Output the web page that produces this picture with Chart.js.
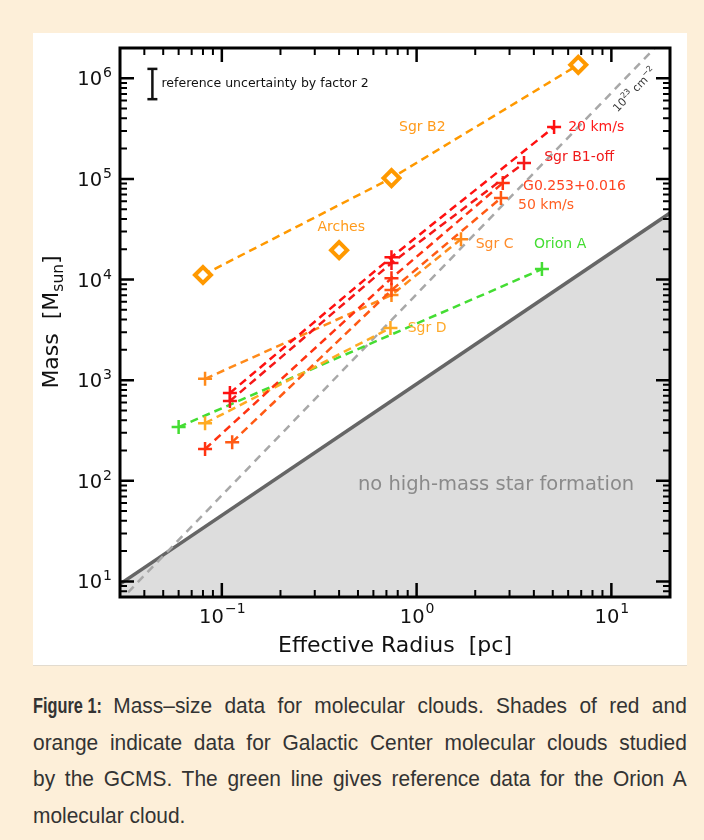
<!DOCTYPE html>
<html lang="en">
<head>
  <meta charset="UTF-8" />
  <title>Mass–size data for molecular clouds</title>
  <script src="https://cdn.jsdelivr.net/npm/chart.js"></script>
  <style>
    body {
      margin: 0;
      width: 704px;
      height: 840px;
      overflow: hidden;
      position: relative;
      background: #fdefd9;
      font-family: 'DejaVu Sans', sans-serif;
    }

    #panel {
      position: absolute;
      left: 33px;
      top: 33px;
      width: 654px;
      height: 632px;
      background: #ffffff;
      border-bottom: 1px solid #e2dbcf;
    }

    /* no condensed font installed, so squeeze a regular one */
    #caption {
      position: absolute;
      left: 33px;
      top: 688px;
      width: 703px;
      transform: scaleX(0.93);
      transform-origin: 0 0;
      font-family: 'Liberation Sans', Arial, sans-serif;
      font-size: 22.5px;
      line-height: 36.7px;
      color: #333333;
    }

    #caption .ln {
      text-align: justify;
      text-align-last: justify;
      white-space: nowrap;
    }

    #caption .ln.last {
      text-align-last: left;
    }

    #caption .fig {
      display: inline-block;
      width: 73px;
      white-space: nowrap;
    }

    #caption .fig b {
      display: inline-block;
      transform: scaleX(0.78);
      transform-origin: 0 50%;
    }
  </style>
</head>
<body>

<div id="panel">
  <canvas id="massChart" width="654" height="632"></canvas>
</div>

<div id="caption">
  <div class="ln"><span class="fig"><b>Figure 1:</b></span> Mass–size data for molecular clouds. Shades of red and</div>
  <div class="ln">orange indicate data for Galactic Center molecular clouds studied</div>
  <div class="ln">by the GCMS. The green line gives reference data for the Orion A</div>
  <div class="ln last">molecular cloud.</div>
</div>

<script>
  // tick labels (powers of ten)
  const radiusTicks = [0.1, 1, 10];
  const massTicks = [1e1, 1e2, 1e3, 1e4, 1e5, 1e6];

  // clouds: effective radius [pc] and mass [M_sun]
  const sgrB2R = [0.080, 0.743, 6.76];
  const sgrB2M = [11100, 102000, 1360000];
  const archesR = [0.40];
  const archesM = [19600];
  const kms20R = [0.110, 0.743, 5.08];
  const kms20M = [745, 16700, 328000];
  const sgrB1R = [0.110, 0.743, 3.56];
  const sgrB1M = [620, 14600, 144000];
  const g0253R = [0.082, 0.743, 2.77];
  const g0253M = [207, 10300, 91000];
  const kms50R = [0.113, 0.743, 2.71];
  const kms50M = [242, 7850, 64500];
  const sgrCR = [0.082, 0.743, 1.69];
  const sgrCM = [1030, 7010, 25200];
  const sgrDR = [0.082, 0.734];
  const sgrDM = [374, 3300];
  const orionR = [0.060, 4.40];
  const orionM = [342, 12700];

  // threshold for high-mass star formation, 10^23 cm^-2 line, error bar
  const limitR = [0.03, 20];
  const limitM = [9.4, 45800];
  const columnR = [0.033, 16.7];
  const columnM = [7.8, 2000000];
  const errR = [0.044, 0.044];
  const errM = [620000, 1240000];

  const annotations = [
    { text: 'Sgr B2', x: 1.07, y: 328000, color: '#ff9a1a', align: 'center' },
    { text: 'Arches', x: 0.41, y: 33000, color: '#ff9a1a', align: 'center' },
    { text: '20 km/s', x: 6.0, y: 328000, color: '#ff1a1a', align: 'left' },
    { text: 'Sgr B1-off', x: 4.52, y: 165000, color: '#f01a1a', align: 'left' },
    { text: 'G0.253+0.016', x: 3.52, y: 85000, color: '#ff4422', align: 'left' },
    { text: '50 km/s', x: 3.32, y: 54000, color: '#ff5f22', align: 'left' },
    { text: 'Sgr C', x: 2.01, y: 22500, color: '#ff8c2a', align: 'left' },
    { text: 'Orion A', x: 4.01, y: 22500, color: '#44dd33', align: 'left' },
    { text: 'Sgr D', x: 0.90, y: 3300, color: '#ffaa2a', align: 'left' }
  ];

  function pts(rs, ms) {
    return rs.map((r, i) => ({ x: r, y: ms[i] }));
  }

  function cloud(label, rs, ms, color) {
    return {
      label: label,
      data: pts(rs, ms),
      showLine: true,
      borderColor: color,
      backgroundColor: color,
      borderWidth: 2.5,
      borderDash: [8, 5],
      pointStyle: 'cross',
      pointRadius: 7,
      pointBorderWidth: 2.5,
      pointBorderColor: color
    };
  }

  function diamonds(label, rs, ms, line) {
    return {
      label: label,
      data: pts(rs, ms),
      showLine: line,
      borderColor: '#ff9900',
      borderWidth: 2.5,
      borderDash: [8, 5],
      pointStyle: 'rectRot',
      pointRadius: 8,
      pointBorderWidth: 4,
      pointBorderColor: '#ff9900',
      pointBackgroundColor: '#ffffff'
    };
  }

  // "10" with a raised exponent
  function powerLabel(ctx, exp, x, y, align, baseSize, expSize, expRise) {
    const base = '10';
    const sup = exp < 0 ? '\u2212' + Math.abs(exp) : String(exp);
    ctx.font = baseSize + 'px "DejaVu Sans"';
    const wb = ctx.measureText(base).width;
    ctx.font = expSize + 'px "DejaVu Sans"';
    const we = ctx.measureText(sup).width;
    let x0 = align === 'center' ? x - (wb + we) / 2 : x - wb - we;
    ctx.textAlign = 'left';
    ctx.textBaseline = 'alphabetic';
    ctx.font = baseSize + 'px "DejaVu Sans"';
    ctx.fillText(base, x0, y);
    ctx.font = expSize + 'px "DejaVu Sans"';
    ctx.fillText(sup, x0 + wb + 1, y - expRise);
  }

  const framePlugin = {
    id: 'frame',
    afterDraw(chart) {
      const ctx = chart.ctx;
      const a = chart.chartArea;
      const xs = chart.scales.x;
      const ys = chart.scales.y;
      ctx.save();

      // text annotations
      ctx.textBaseline = 'middle';
      ctx.font = '14px "DejaVu Sans"';
      annotations.forEach(n => {
        ctx.fillStyle = n.color;
        ctx.textAlign = n.align;
        ctx.fillText(n.text, xs.getPixelForValue(n.x), ys.getPixelForValue(n.y));
      });

      ctx.fillStyle = '#111';
      ctx.textAlign = 'left';
      ctx.font = '12.5px "DejaVu Sans"';
      ctx.fillText('reference uncertainty by factor 2', xs.getPixelForValue(0.049), ys.getPixelForValue(880000));

      ctx.fillStyle = '#8a8a8a';
      ctx.font = '19.5px "DejaVu Sans"';
      ctx.fillText('no high-mass star formation', xs.getPixelForValue(0.50), ys.getPixelForValue(91));

      // 10^23 cm^-2 along the dashed line
      ctx.save();
      ctx.translate(xs.getPixelForValue(13.3), ys.getPixelForValue(800000));
      ctx.rotate(-46 * Math.PI / 180);
      ctx.fillStyle = '#333';
      ctx.textBaseline = 'alphabetic';
      let cx = -30;
      const parts = [['10', 11, 0], ['23', 8, 5], [' cm', 11, 0], ['\u22122', 8, 5]];
      parts.forEach(p => {
        ctx.font = p[1] + 'px "DejaVu Sans"';
        ctx.fillText(p[0], cx, 4 - p[2]);
        cx += ctx.measureText(p[0]).width;
      });
      ctx.restore();

      // inward ticks on all four sides
      ctx.strokeStyle = '#000';
      function ticksFor(scale, min, max, draw) {
        for (let e = Math.floor(Math.log10(min)); e <= Math.ceil(Math.log10(max)); e++) {
          for (let k = 1; k <= 9; k++) {
            const v = k * Math.pow(10, e);
            if (v <= min || v >= max) continue;
            draw(scale.getPixelForValue(v), k === 1);
          }
        }
      }
      ticksFor(xs, xs.min, xs.max, (px, major) => {
        const len = major ? 14 : 7;
        ctx.lineWidth = major ? 2.5 : 2;
        ctx.beginPath();
        ctx.moveTo(px, a.bottom); ctx.lineTo(px, a.bottom - len);
        ctx.moveTo(px, a.top); ctx.lineTo(px, a.top + len);
        ctx.stroke();
      });
      ticksFor(ys, ys.min, ys.max, (py, major) => {
        const len = major ? 14 : 7;
        ctx.lineWidth = major ? 2.5 : 2;
        ctx.beginPath();
        ctx.moveTo(a.left, py); ctx.lineTo(a.left + len, py);
        ctx.moveTo(a.right, py); ctx.lineTo(a.right - len, py);
        ctx.stroke();
      });

      // spines
      ctx.lineWidth = 3;
      ctx.strokeRect(a.left, a.top, a.right - a.left, a.bottom - a.top);

      // tick labels
      ctx.fillStyle = '#111';
      radiusTicks.forEach(v => {
        powerLabel(ctx, Math.round(Math.log10(v)), xs.getPixelForValue(v), a.bottom + 26, 'center', 19.5, 14, 10);
      });
      massTicks.forEach(v => {
        const py = ys.getPixelForValue(v);
        powerLabel(ctx, Math.round(Math.log10(v)), a.left - 9, py + 7, 'right', 19.5, 14, 8);
      });

      // axis titles
      ctx.textAlign = 'center';
      ctx.textBaseline = 'alphabetic';
      ctx.font = '22px "DejaVu Sans"';
      ctx.fillText('Effective Radius  [pc]', (a.left + a.right) / 2, a.bottom + 55);

      ctx.save();
      ctx.translate(25, 289);
      ctx.rotate(-Math.PI / 2);
      ctx.textAlign = 'left';
      const t1 = 'Mass  [M', t2 = 'sun', t3 = ']';
      ctx.font = '22px "DejaVu Sans"';
      const w1 = ctx.measureText(t1).width, w3 = ctx.measureText(t3).width;
      ctx.font = '15.5px "DejaVu Sans"';
      const w2 = ctx.measureText(t2).width;
      let tx = -(w1 + w2 + w3) / 2;
      ctx.font = '22px "DejaVu Sans"';
      ctx.fillText(t1, tx, 0);
      ctx.font = '15.5px "DejaVu Sans"';
      ctx.fillText(t2, tx + w1, 5);
      ctx.font = '22px "DejaVu Sans"';
      ctx.fillText(t3, tx + w1 + w2, 0);
      ctx.restore();

      ctx.restore();
    }
  };

  const ctx = document.getElementById('massChart').getContext('2d');
  const chart = new Chart(ctx, {
    type: 'scatter',
    data: {
      datasets: [
        {
          label: 'uncertainty',
          data: pts(errR, errM),
          showLine: true,
          borderColor: '#111',
          borderWidth: 2.5,
          pointStyle: 'line',
          pointRadius: 5,
          pointBorderWidth: 2.5,
          pointBorderColor: '#111'
        },
        diamonds('Sgr B2', sgrB2R, sgrB2M, true),
        diamonds('Arches', archesR, archesM, false),
        cloud('20 km/s', kms20R, kms20M, '#ff1010'),
        cloud('Sgr B1-off', sgrB1R, sgrB1M, '#f51818'),
        cloud('G0.253+0.016', g0253R, g0253M, '#ff3311'),
        cloud('50 km/s', kms50R, kms50M, '#ff5a14'),
        cloud('Sgr C', sgrCR, sgrCM, '#ff8a1a'),
        cloud('Sgr D', sgrDR, sgrDM, '#ffaa22'),
        cloud('Orion A', orionR, orionM, '#44dd33'),
        {
          label: '10^23 cm^-2',
          data: pts(columnR, columnM),
          showLine: true,
          borderColor: '#a8a8a8',
          borderWidth: 2.5,
          borderDash: [8, 6],
          pointRadius: 0
        },
        {
          label: 'limit',
          data: pts(limitR, limitM),
          showLine: true,
          borderColor: '#666666',
          borderWidth: 3.5,
          backgroundColor: '#dddddd',
          fill: 'start',
          pointRadius: 0
        }
      ]
    },
    options: {
      responsive: false,
      animation: false,
      layout: { padding: { top: 15, right: 17, left: 0, bottom: 0 } },
      scales: {
        x: {
          type: 'logarithmic',
          min: 0.03,
          max: 20,
          ticks: { display: false },
          grid: { display: false },
          border: { display: false },
          afterFit: s => { s.height = 68; }
        },
        y: {
          type: 'logarithmic',
          min: 7,
          max: 2000000,
          ticks: { display: false },
          grid: { display: false },
          border: { display: false },
          afterFit: s => { s.width = 87; }
        }
      },
      plugins: {
        legend: { display: false },
        tooltip: { enabled: false }
      }
    },
    plugins: [framePlugin]
  });
</script>

</body>
</html>
